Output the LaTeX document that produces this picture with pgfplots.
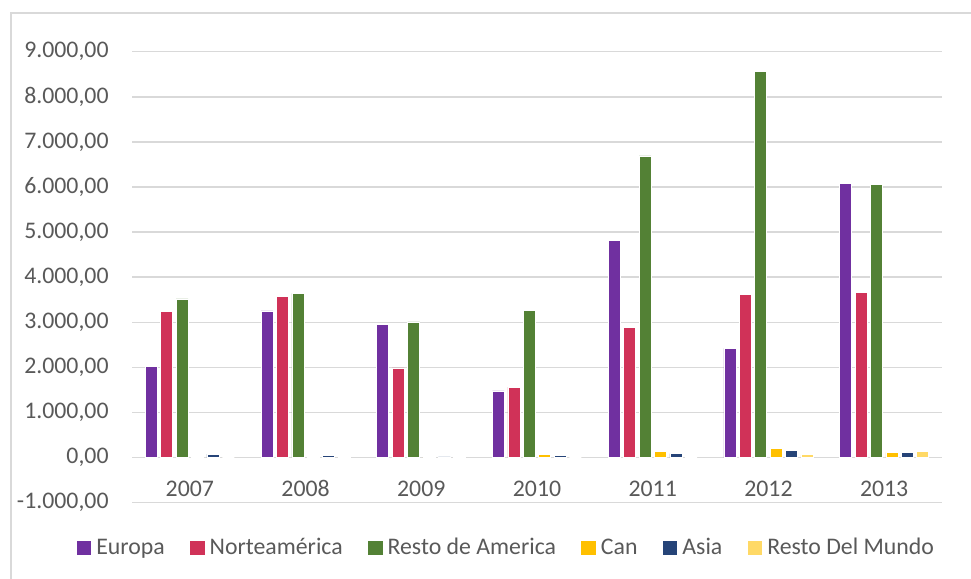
\documentclass[border=0pt]{standalone}
\usepackage{pgfplots}
\pgfplotsset{compat=1.18}
\usepackage{fontspec}
\setmainfont{Carlito}

\definecolor{txt}{HTML}{595959}
\definecolor{gridc}{HTML}{D9D9D9}
\definecolor{europa}{HTML}{7030A0}
\definecolor{norte}{HTML}{D03258}
\definecolor{resto}{HTML}{538135}
\definecolor{can}{HTML}{FFC000}
\definecolor{asia}{HTML}{264478}
\definecolor{rdm}{HTML}{FFD966}

\newcommand\chartfont{\fontsize{11.9}{14}\selectfont}

% one table per series: x = year index (0 = 2007)
\pgfplotstableread{
x y
0 2020
1 3255
2 2945
3 1480
4 4820
5 2420
6 6080
}\europa
\pgfplotstableread{
x y
0 3240
1 3580
2 1990
3 1560
4 2880
5 3610
6 3670
}\norte
\pgfplotstableread{
x y
0 3520
1 3640
2 3010
3 3270
4 6690
5 8560
6 6060
}\resto
\pgfplotstableread{
x y
0 5
1 5
2 5
3 65
4 130
5 200
6 115
}\can
\pgfplotstableread{
x y
0 75
1 45
2 15
3 40
4 88
5 155
6 110
}\asia
\pgfplotstableread{
x y
0 0
1 -10
2 5
3 0
4 0
5 65
6 130
}\rdm

\begin{document}
\begin{tikzpicture}
\path[use as bounding box] (0,0) rectangle (485.5pt,289.5pt);
\draw[gridc, line width=0.75pt] (5.5pt,0) -- (5.5pt,283pt) -- (485.5pt,283pt);
\begin{axis}[
  at={(66pt,38.15pt)},
  anchor=south west,
  scale only axis,
  width=405pt,
  height=225.5pt,
  ybar=1.7pt,
  bar width=6pt,
  xmin=-0.5, xmax=6.5,
  ymin=-1000, ymax=9000,
  ytick={-1000,0,...,9000},
  xtick={0,...,6},
  xticklabels={2007,2008,2009,2010,2011,2012,2013},
  scaled y ticks=false,
  axis line style={draw=none},
  major tick length=0pt,
  ymajorgrids,
  grid style={gridc, line width=0.75pt},
  every tick label/.append style={font=\chartfont, text=txt},
  yticklabel style={anchor=east, inner sep=0pt, xshift=-11.5pt,
    /pgf/number format/.cd, fixed, fixed zerofill, precision=2,
    1000 sep={.}, dec sep={,}, assume math mode=true},
  xticklabel style={anchor=base, inner sep=0pt, yshift=3.1pt},
  every axis plot post/.append style={
    legend image code/.code={\path[##1, draw=none] (0pt,-3.6pt) rectangle (7.2pt,3.6pt); \path (8.4pt,0pt);}},
  legend columns=6,
  legend style={at={(axis description cs:0.4625,-0.1004)}, anchor=center,
    draw=none, fill=none, font=\chartfont, text=txt,
    nodes={inner sep=1.2pt},
    /tikz/every even column/.append style={column sep=11.5pt}},
]
\addplot[fill=europa, draw=white, line width=0.3pt] table {\europa};
\addplot[fill=norte, draw=white, line width=0.3pt] table {\norte};
\addplot[fill=resto, draw=white, line width=0.3pt] table {\resto};
\addplot[fill=can, draw=white, line width=0.3pt] table {\can};
\addplot[fill=asia, draw=white, line width=0.3pt] table {\asia};
\addplot[fill=rdm, draw=white, line width=0.3pt] table {\rdm};
\legend{Europa, Norteamérica, Resto de America, Can, Asia, Resto Del Mundo}
\end{axis}
\end{tikzpicture}
\end{document}
